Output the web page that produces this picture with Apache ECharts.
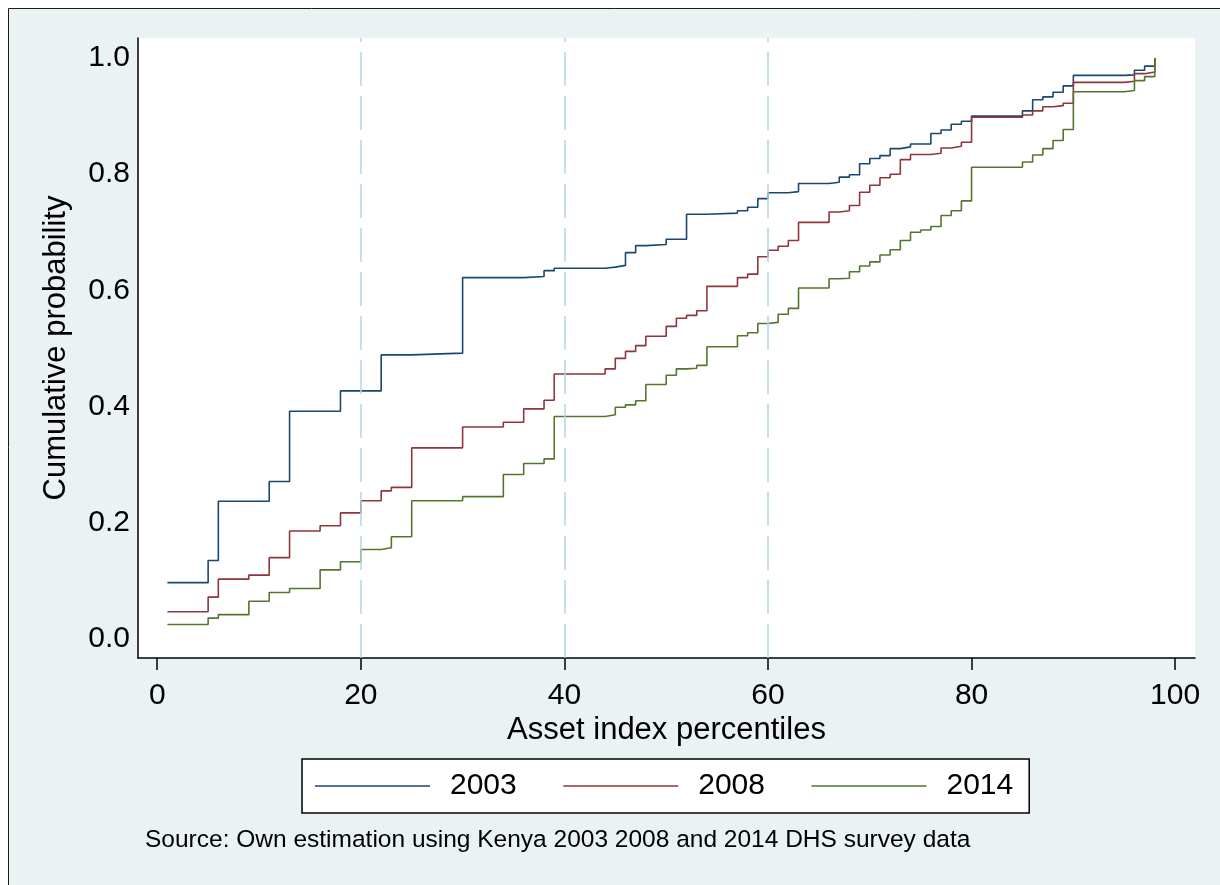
<!DOCTYPE html>
<html>
<head>
<meta charset="utf-8">
<title>Cumulative distribution of asset index percentiles</title>
<script src="https://cdn.jsdelivr.net/npm/echarts@6/dist/echarts.min.js"></script>
<style>
  html, body { margin: 0; padding: 0; background: #ffffff; overflow: hidden; }
  #chart { width: 1220px; height: 885px; }
</style>
</head>
<body>
<div id="chart"></div>
<script>
// Step positions (asset index percentile) and cumulative probability per survey year
const x2003 = [1, 5, 6, 11, 13, 18, 22, 25, 30, 36, 38, 39, 44, 45, 46, 47, 48, 50, 52, 54, 57, 58, 59, 60, 62, 63, 66, 67, 68, 69, 70, 71, 72, 73, 74, 76, 77, 78, 79, 80, 85, 86, 87, 88, 89, 90, 95, 96, 97, 98];
const y2003 = [0.097, 0.135, 0.237, 0.271, 0.392, 0.427, 0.489, 0.492, 0.622, 0.624, 0.634, 0.638, 0.640, 0.643, 0.665, 0.677, 0.679, 0.688, 0.731, 0.733, 0.737, 0.743, 0.758, 0.768, 0.770, 0.784, 0.786, 0.795, 0.799, 0.818, 0.827, 0.832, 0.844, 0.847, 0.852, 0.870, 0.876, 0.886, 0.891, 0.900, 0.909, 0.928, 0.933, 0.941, 0.952, 0.970, 0.971, 0.979, 0.986, 1.000];

const x2008 = [1, 5, 6, 9, 11, 13, 16, 18, 20, 22, 23, 25, 30, 34, 36, 38, 39, 44, 45, 46, 47, 48, 50, 51, 52, 53, 54, 57, 58, 59, 60, 61, 62, 63, 66, 67, 68, 69, 70, 71, 72, 73, 74, 76, 77, 78, 79, 80, 85, 86, 87, 88, 89, 90, 95, 96, 97, 98];
const y2008 = [0.047, 0.072, 0.103, 0.110, 0.140, 0.186, 0.195, 0.217, 0.238, 0.255, 0.261, 0.329, 0.365, 0.373, 0.396, 0.411, 0.456, 0.465, 0.483, 0.495, 0.505, 0.521, 0.538, 0.552, 0.557, 0.565, 0.607, 0.622, 0.628, 0.658, 0.669, 0.676, 0.686, 0.717, 0.735, 0.737, 0.746, 0.769, 0.781, 0.794, 0.800, 0.825, 0.834, 0.836, 0.845, 0.848, 0.855, 0.898, 0.902, 0.909, 0.916, 0.918, 0.922, 0.958, 0.960, 0.973, 0.976, 1.000];

const x2014 = [1, 5, 6, 9, 11, 13, 16, 18, 20, 22, 23, 25, 30, 34, 36, 38, 39, 44, 45, 46, 47, 48, 50, 51, 52, 53, 54, 57, 58, 59, 60, 61, 62, 63, 66, 67, 68, 69, 70, 71, 72, 73, 74, 75, 76, 77, 78, 79, 80, 85, 86, 87, 88, 89, 90, 95, 96, 97, 98];
const y2014 = [0.025, 0.036, 0.042, 0.065, 0.080, 0.087, 0.119, 0.133, 0.154, 0.157, 0.176, 0.238, 0.245, 0.283, 0.302, 0.310, 0.383, 0.386, 0.399, 0.403, 0.410, 0.438, 0.454, 0.465, 0.466, 0.471, 0.503, 0.522, 0.527, 0.543, 0.545, 0.559, 0.569, 0.604, 0.620, 0.621, 0.632, 0.642, 0.649, 0.661, 0.670, 0.686, 0.700, 0.704, 0.710, 0.729, 0.737, 0.754, 0.812, 0.821, 0.833, 0.844, 0.858, 0.877, 0.942, 0.944, 0.961, 0.968, 1.000];

const years = ['2003', '2008', '2014'];
const xTicks = [0, 20, 40, 60, 80, 100];
const yTicks = [0, 0.2, 0.4, 0.6, 0.8, 1.0];
const refLines = [20, 40, 60];

const colors = ['#1a476f', '#90353b', '#55752f'];
const FONT = '"Liberation Sans", Arial, Helvetica, sans-serif';

const xMin = -1.89, xMax = 101.95;
const yMin = -0.0327, yMax = 1.0344;

function pairs(xs, ys) {
  return xs.map((x, i) => [x, ys[i]]);
}

const seriesData = [pairs(x2003, y2003), pairs(x2008, y2008), pairs(x2014, y2014)];

const chart = echarts.init(document.getElementById('chart'), null, { renderer: 'canvas' });

const option = {
  animation: false,
  backgroundColor: '#ffffff',
  textStyle: { fontFamily: FONT },
  graphic: [
    {
      type: 'rect',
      z: -10,
      silent: true,
      shape: { x: 8.5, y: 8.5, width: 1240, height: 900 },
      style: { fill: '#eaf2f3', stroke: '#1a1a1a', lineWidth: 1 }
    },
    {
      type: 'text',
      left: 145,
      top: 828,
      silent: true,
      style: {
        text: 'Source: Own estimation using Kenya 2003 2008 and 2014 DHS survey data',
        font: '24.5px ' + FONT,
        fill: '#000000'
      }
    }
  ],
  grid: {
    left: 138,
    top: 38,
    width: 1057,
    height: 620,
    show: true,
    backgroundColor: '#ffffff',
    borderWidth: 0,
    containLabel: false
  },
  legend: {
    data: years,
    left: 302,
    top: 759,
    orient: 'horizontal',
    icon: 'rect',
    itemWidth: 115,
    itemHeight: 1.6,
    itemGap: 46.5,
    padding: [12, 16, 12, 13],
    backgroundColor: '#ffffff',
    borderColor: '#000000',
    borderWidth: 1.5,
    borderRadius: 0,
    selectedMode: false,
    textStyle: {
      fontFamily: FONT,
      fontSize: 30,
      lineHeight: 30,
      color: '#000000',
      padding: [0, 0, 0, 15]
    }
  },
  xAxis: {
    type: 'value',
    min: xMin,
    max: xMax,
    name: 'Asset index percentiles',
    nameLocation: 'middle',
    nameGap: 50,
    nameTextStyle: { fontFamily: FONT, fontSize: 31, color: '#000000' },
    axisLine: { show: true, onZero: false, lineStyle: { color: '#000000', width: 1.5 } },
    axisTick: { show: true, customValues: xTicks, length: 12, lineStyle: { color: '#000000', width: 1.5 } },
    axisLabel: {
      customValues: xTicks,
      fontFamily: FONT,
      fontSize: 30,
      color: '#000000',
      margin: 22.5
    },
    splitLine: { show: false }
  },
  yAxis: {
    type: 'value',
    min: yMin,
    max: yMax,
    name: 'Cumulative probability',
    nameLocation: 'middle',
    nameRotate: 90,
    nameGap: 66,
    nameTextStyle: { fontFamily: FONT, fontSize: 31, color: '#000000' },
    axisLine: { show: true, onZero: false, lineStyle: { color: '#000000', width: 1.5 } },
    axisTick: { show: false },
    axisLabel: {
      customValues: yTicks,
      formatter: v => v.toFixed(1),
      fontFamily: FONT,
      fontSize: 30,
      color: '#000000',
      margin: 8
    },
    splitLine: { show: false }
  },
  series: [
    {
      // dashed reference lines at the 20th, 40th and 60th percentiles
      name: 'ref',
      type: 'line',
      data: [],
      silent: true,
      z: 1,
      markLine: {
        silent: true,
        symbol: ['none', 'none'],
        label: { show: false },
        emphasis: { disabled: true },
        lineStyle: { color: '#aed8e4', width: 1.5, type: [34, 10] },
        data: refLines.map(v => [{ coord: [v, yMin] }, { coord: [v, yMax] }])
      }
    }
  ].concat(years.map((yr, i) => ({
    name: yr,
    type: 'line',
    step: 'end',
    data: seriesData[i],
    symbol: 'none',
    showSymbol: false,
    z: 2 + i,
    color: colors[i],
    lineStyle: { color: colors[i], width: 1.6 },
    emphasis: { disabled: true }
  })))
};

chart.setOption(option);
</script>
</body>
</html>
